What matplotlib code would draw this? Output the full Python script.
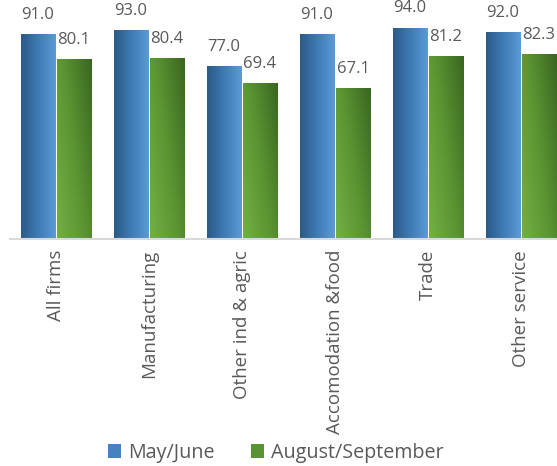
import numpy as np
import matplotlib.pyplot as plt
from matplotlib.patches import Patch
from matplotlib.colors import LinearSegmentedColormap

plt.rcParams['font.family'] = ['Open Sans', 'DejaVu Sans']

categories = ["All firms", "Manufacturing", "Other ind & agric",
              "Accomodation &food", "Trade", "Other service"]
may_june = [91.0, 93.0, 77.0, 91.0, 94.0, 92.0]
aug_sep = [80.1, 80.4, 69.4, 67.1, 81.2, 82.3]
series_names = ["May/June", "August/September"]

text_color = "#595959"

# gradients used for the bars
blue_cmap = LinearSegmentedColormap.from_list("blue", ["#2b5a87", "#3f7bb5", "#5b9bd6"])
green_cmap = LinearSegmentedColormap.from_list("green", ["#72b043", "#5a9432", "#3a6620"])

# horizontal gradient for blue, diagonal for green
gx, gy = np.meshgrid(np.linspace(0, 1, 64), np.linspace(0, 1, 128))
blue_grad = gx
green_grad = 0.6 * gx + 0.4 * gy

fig = plt.figure(figsize=(5.57, 4.66), dpi=100)
ax = fig.add_axes([9.5 / 557, 227 / 466, 558 / 557, 225 / 466])

x = np.arange(len(categories))
width = 0.366
gap = 0.0215

bars_a = ax.bar(x - width / 2 - gap / 2, may_june, width, color="none", zorder=2)
bars_b = ax.bar(x + width / 2 + gap / 2, aug_sep, width, color="none", zorder=2)

for bars, grad, cmap in [(bars_a, blue_grad, blue_cmap), (bars_b, green_grad, green_cmap)]:
    for b in bars:
        x0, y0 = b.get_x(), b.get_y()
        im = ax.imshow(grad, cmap=cmap, origin="lower", aspect="auto",
                       extent=[x0, x0 + b.get_width(), y0, y0 + b.get_height()],
                       zorder=1, vmin=0, vmax=1)
        im.set_clip_path(b)
    for b in bars:
        ax.annotate(f"{b.get_height():.1f}",
                    (b.get_x() + b.get_width() / 2, b.get_height()),
                    xytext=(0, 8), textcoords="offset points",
                    ha="center", va="bottom", fontsize=12, color=text_color)

ax.set_xlim(-0.5, len(categories) - 0.5)
ax.set_ylim(0, 100)

ax.set_xticks(x)
ax.set_xticklabels(categories, rotation=90, fontsize=13.5, color=text_color)
ax.tick_params(axis="x", length=0, pad=8)
ax.set_yticks([])
for side in ["top", "right", "left"]:
    ax.spines[side].set_visible(False)
ax.spines["bottom"].set_color("#d9d9d9")
ax.spines["bottom"].set_linewidth(1.5)

handles = [Patch(facecolor="#4682c0", label=series_names[0]),
           Patch(facecolor="#5a9432", label=series_names[1])]
fig.legend(handles=handles, loc="center", bbox_to_anchor=(276 / 557, 1 - 453 / 466),
           ncol=2, frameon=False, fontsize=14.2, labelcolor=text_color,
           handlelength=0.65, handleheight=0.65, handletextpad=0.4, columnspacing=1.8)

fig.savefig("out.png", dpi=100)
